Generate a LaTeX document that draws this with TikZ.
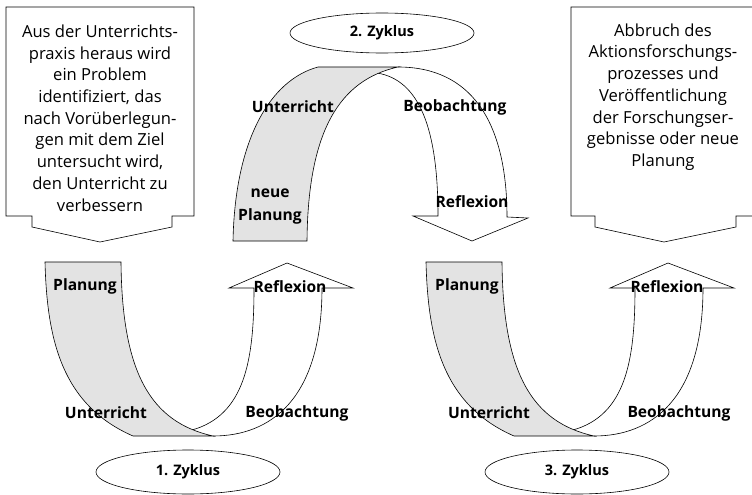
\documentclass[tikz,border=0pt]{standalone}
\usepackage{fontspec}
\setmainfont{Open Sans}
\usetikzlibrary{shapes.geometric}
\begin{document}
\begin{tikzpicture}[x=1pt,y=-1pt,
  line/.style={draw=black,line width=0.6pt,line join=miter},
  band/.style={line,fill=black!11},
  whiteband/.style={line,fill=white},
  lbl/.style={font=\bfseries\fontsize{15.6}{17}\selectfont,inner sep=0pt},
  boxtext/.style={font=\fontsize{16.6}{21.7}\selectfont,align=center,inner sep=0pt},
  cyc/.style={line,ellipse,minimum width=184pt,minimum height=44pt,font=\bfseries\fontsize{14.5}{17}\selectfont}]
\useasboundingbox (0,0) rectangle (752,495);

% ---------- text boxes ----------
\draw[line] (6,7) -- (194,7) -- (194,216) -- (172,216) -- (172,227) -- (100,242)
  -- (32,227) -- (32,216) -- (6,216) -- cycle;
\node[boxtext] (t1) at (100,118) {Aus der Unterrichts-\\praxis heraus wird\\ein Problem\\identifiziert, das\\nach Vorüberlegun-\\gen mit dem Ziel\\untersucht wird,\\den Unterricht zu\\verbessern};

\draw[line] (758,7) -- (571,7) -- (571,216) -- (595,216) -- (595,227) -- (664,242)
  -- (736,227) -- (736,216) -- (758,216);
\node[boxtext] (t2) at (663,97) {Abbruch des\\Aktionsforschungs-\\prozesses und\\Veröffentlichung\\der Forschungser-\\gebnisse oder neue\\Planung};

% ---------- cycle 1 and 3 ----------
\foreach \dx in {0,381}{
  \begin{scope}[xshift=\dx pt]
    \draw[whiteband] (192,430) .. controls (245,415) and (254,360) .. (254,288)
      -- (229,288) -- (287,263) -- (353,288) -- (322,288)
      .. controls (322,400) and (270,436) .. (213,436);
    \draw[band] (45,262) -- (121,262) .. controls (122,372) and (150,422) .. (213,436)
      -- (133,436) .. controls (62,405) and (47,340) .. cycle;
  \end{scope}
}
\node[lbl] (p1) at (85,286) {Planung};
\node[lbl] (r1) at (290,287) {Reflexion};
\node[lbl] (u1) at (106,413) {Unterricht};
\node[lbl] (b1) at (297,413) {Beobachtung};
\node[cyc] (z1) at (188,472) {1. Zyklus};

\node[lbl] (p3) at (467,286) {Planung};
\node[lbl] (r3) at (667,287) {Reflexion};
\node[lbl] (u3) at (489,413) {Unterricht};
\node[lbl] (b3) at (679,413) {Beobachtung};
\node[cyc] (z3) at (577,472) {3. Zyklus};

% ---------- cycle 2 ----------
\draw[whiteband] (377,73) .. controls (420,80) and (438,130) .. (438,216)
  -- (413,216) -- (472,241) -- (528,218) -- (507,217)
  .. controls (507,120) and (470,67) .. (398,67);
\draw[band] (233,241) -- (307,241) .. controls (308,130) and (340,80) .. (398,67)
  -- (318,67) .. controls (270,80) and (235,140) .. cycle;
\node[lbl] (u2) at (293,107) {Unterricht};
\node[lbl] (b2) at (455,107) {Beobachtung};
\node[lbl,align=center,font=\bfseries\fontsize{15.6}{23}\selectfont] (n2) at (270,207) {neue\\Planung};
\node[lbl] (r2) at (472,202) {Reflexion};
\node[cyc,minimum height=40pt] (z2) at (382,33) {2. Zyklus};
\end{tikzpicture}
\end{document}
